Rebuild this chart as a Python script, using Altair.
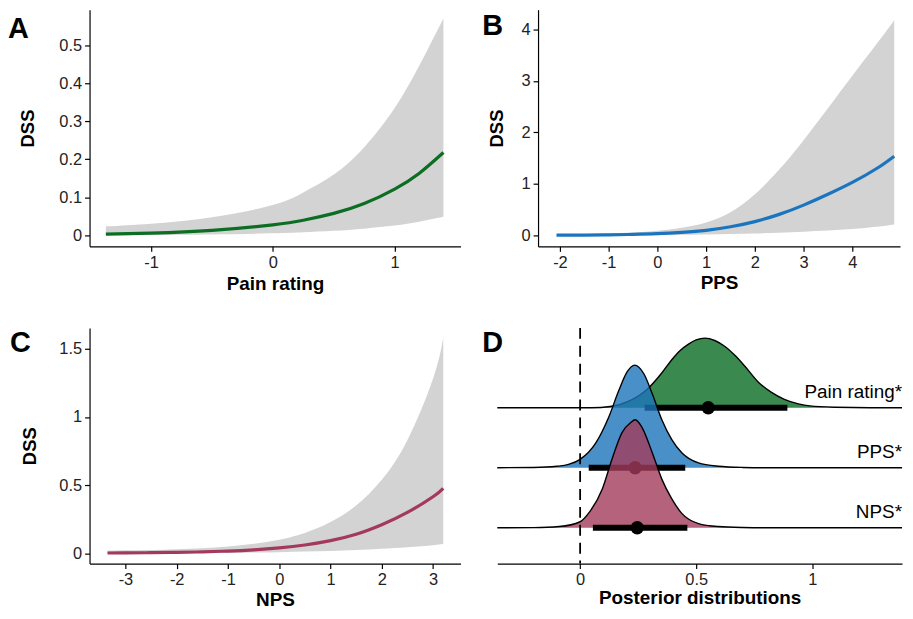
import altair as alt
import pandas as pd

FONT = "Liberation Sans"

# ---------------- Panel A : Pain rating ----------------
a_x = [-1.37, -1.0, -0.5, 0.0, 0.25, 0.5, 0.75, 1.0, 1.2, 1.4]
a_fit = [0.0037, 0.0064, 0.0134, 0.028, 0.040, 0.058, 0.084, 0.122, 0.163, 0.218]
a_lo = [0.0008, 0.0014, 0.0028, 0.0058, 0.0085, 0.0124, 0.018, 0.026, 0.036, 0.049]
a_hi = [0.024, 0.031, 0.048, 0.080, 0.113, 0.160, 0.232, 0.335, 0.445, 0.570]

# ---------------- Panel B : PPS ----------------
b_x = [-2.07, -1.5, -1.0, -0.5, 0.0, 0.5, 1.0, 1.5, 2.0, 2.5, 3.0, 3.5, 4.0, 4.5, 4.86]
b_fit = [0.006, 0.009, 0.014, 0.022, 0.035, 0.06, 0.10, 0.17, 0.27, 0.41, 0.59, 0.80, 1.03, 1.30, 1.54]
b_lo = [0.0, 0.002, 0.004, 0.007, 0.01, 0.015, 0.021, 0.029, 0.04, 0.054, 0.072, 0.095, 0.125, 0.17, 0.215]
b_hi = [0.02, 0.028, 0.04, 0.06, 0.09, 0.15, 0.25, 0.45, 0.80, 1.28, 1.85, 2.47, 3.10, 3.72, 4.18]

# ---------------- Panel C : NPS ----------------
c_x = [-3.35, -3.0, -2.5, -2.0, -1.5, -1.0, -0.5, 0.0, 0.5, 1.0, 1.5, 2.0, 2.5, 3.0, 3.2]
c_fit = [0.0025, 0.0033, 0.005, 0.0075, 0.011, 0.017, 0.026, 0.04, 0.061, 0.093, 0.14, 0.21, 0.30, 0.415, 0.477]
c_lo = [0.001, 0.0012, 0.0016, 0.0022, 0.003, 0.0042, 0.006, 0.009, 0.013, 0.018, 0.025, 0.034, 0.045, 0.06, 0.068]
c_hi = [0.02, 0.022, 0.025, 0.03, 0.038, 0.05, 0.07, 0.10, 0.15, 0.23, 0.35, 0.54, 0.83, 1.28, 1.58]

# ---------------- Panel D : posterior distributions ----------------
ridge_names = ["Pain rating", "PPS", "NPS"]
ridge_offsets = [2, 1, 0]
ridge_colors = ["#096D23", "#1D74BA", "#A23B5B"]

pain_x = [-0.357, 0.05, 0.13, 0.21, 0.295, 0.35, 0.395, 0.43, 0.467, 0.5, 0.538, 0.58,
          0.624, 0.67, 0.71, 0.767, 0.823, 0.88, 0.94, 0.99, 1.1, 1.25, 1.387]
pain_h = [0, 0, 0.02, 0.11, 0.33, 0.57, 0.80, 0.95, 1.06, 1.13, 1.16, 1.12,
          1.02, 0.86, 0.69, 0.43, 0.26, 0.14, 0.065, 0.03, 0.008, 0, 0]
pps_x = [-0.357, -0.2, -0.1, -0.05, 0.0, 0.067, 0.124, 0.167, 0.203, 0.235, 0.274,
         0.31, 0.352, 0.395, 0.438, 0.51, 0.595, 0.7, 0.8, 1.387]
pps_h = [0, 0.005, 0.025, 0.055, 0.14, 0.41, 0.85, 1.29, 1.60, 1.71, 1.57,
         1.24, 0.80, 0.47, 0.25, 0.08, 0.025, 0.005, 0, 0]
nps_x = [-0.357, -0.2, -0.09, 0.0, 0.04, 0.096, 0.138, 0.181, 0.217, 0.238, 0.267,
         0.31, 0.352, 0.395, 0.438, 0.51, 0.595, 0.7, 0.8, 1.387]
nps_h = [0, 0.003, 0.02, 0.10, 0.26, 0.65, 1.15, 1.59, 1.75, 1.80, 1.67,
         1.26, 0.81, 0.48, 0.24, 0.07, 0.02, 0.004, 0, 0]

interval_median = [0.552, 0.237, 0.246]
interval_lo = [0.278, 0.037, 0.055]
interval_hi = [0.893, 0.453, 0.462]
ridge_labels = ["Pain rating*", "PPS*", "NPS*"]

HYPHEN = "replace(format(datum.value, '~g'), '\u2212', '-')"


def letter(text, x, y):
    return alt.Chart(pd.DataFrame({"t": [text]})).mark_text(
        align="left", baseline="top", font=FONT, fontSize=29, fontWeight="bold",
        color="black"
    ).encode(x=alt.value(x), y=alt.value(y), text="t:N")


def curve_panel(x, fit, lo, hi, color, xdom, ydom, xticks, yticks, xtitle,
                width, height, ytitle_x, xtitle_y, lab):
    X = alt.X("x:Q", scale=alt.Scale(domain=xdom, nice=False, zero=False),
              axis=alt.Axis(values=xticks, title=xtitle, labelExpr=HYPHEN,
                            titleBaseline="alphabetic", titleY=xtitle_y))
    Y = alt.Y("y:Q", scale=alt.Scale(domain=ydom, nice=False, zero=False),
              axis=alt.Axis(values=yticks, title="DSS", format="~g",
                            titleBaseline="alphabetic", titleX=ytitle_x))
    band_df = pd.DataFrame({"x": x, "y": lo, "y2": hi})
    line_df = pd.DataFrame({"x": x, "y": fit})
    band = alt.Chart(band_df).mark_area(color="#D3D3D3", interpolate="natural").encode(
        x=X, y=Y, y2="y2:Q")
    line = alt.Chart(line_df).mark_line(color=color, strokeWidth=3.2, interpolate="natural").encode(
        x=X, y=Y)
    return alt.layer(band, line, lab).properties(width=width, height=height)


A = curve_panel(a_x, a_fit, a_lo, a_hi, "#0B6E23", [-1.504, 1.54], [-0.0285, 0.593],
                [-1, 0, 1], [0, 0.1, 0.2, 0.3, 0.4, 0.5], "Pain rating",
                373, 238, -56.7, 43, letter("A", -82, 5))
B = curve_panel(b_x, b_fit, b_lo, b_hi, "#1A75BE", [-2.449, 4.979], [-0.2105, 4.383],
                [-2, -1, 0, 1, 2, 3, 4], [0, 1, 2, 3, 4], "PPS",
                364, 238, -35.3, 42, letter("B", -56, 2))
C = curve_panel(c_x, c_fit, c_lo, c_hi, "#A3395C", [-3.70, 3.536], [-0.075, 1.653],
                [-3, -2, -1, 0, 1, 2, 3], [0, 0.5, 1, 1.5], "NPS",
                373, 237, -54.7, 42, letter("C", -80, 1))

# ---- Panel D ----
XD = alt.X("x:Q", scale=alt.Scale(domain=[-0.357, 1.387], nice=False, zero=False),
           axis=alt.Axis(values=[0, 0.5, 1], title="Posterior distributions", labelExpr=HYPHEN,
                         titleBaseline="alphabetic", titleY=40.5))
YD = alt.Y("y:Q", scale=alt.Scale(domain=[-0.597, 3.33], nice=False, zero=False), axis=None)

dens_x = [pain_x, pps_x, nps_x]
dens_h = [pain_h, pps_h, nps_h]
d_layers = []
for i in range(3):
    off = ridge_offsets[i]
    ddf = pd.DataFrame({"x": dens_x[i], "y": [off + h for h in dens_h[i]],
                        "y2": [off] * len(dens_x[i])})
    d_layers.append(alt.Chart(ddf).mark_area(color=ridge_colors[i], opacity=0.8,
                                             interpolate="monotone").encode(x=XD, y=YD, y2="y2:Q"))
    d_layers.append(alt.Chart(ddf).mark_line(color="black", strokeWidth=1.4,
                                             interpolate="monotone").encode(x=XD, y=YD))
    idf = pd.DataFrame({"x": [interval_lo[i]], "x2": [interval_hi[i]], "y": [off]})
    d_layers.append(alt.Chart(idf).mark_rule(color="black", strokeWidth=6).encode(
        x=XD, x2="x2:Q", y=YD))
    pdf = pd.DataFrame({"x": [interval_median[i]], "y": [off]})
    d_layers.append(alt.Chart(pdf).mark_circle(color="black", opacity=1, size=180).encode(
        x=XD, y=YD))

vdf = pd.DataFrame({"x": [0]})
d_layers.append(alt.Chart(vdf).mark_rule(color="black", strokeWidth=1.8,
                                         strokeDash=[11, 7]).encode(x=XD))
tdf = pd.DataFrame({"x": [1.387] * 3, "y": [o + 0.165 for o in ridge_offsets], "t": ridge_labels})
d_layers.append(alt.Chart(tdf).mark_text(align="right", baseline="alphabetic", font=FONT,
                                         fontSize=19, color="black").encode(
    x=XD, y=YD, text="t:N"))
d_layers.append(letter("D", -15, 1))

D = alt.layer(*d_layers).properties(width=407, height=237)

row1 = alt.hconcat(A, B, spacing=78, bounds="flush")
row2 = alt.hconcat(C, D, spacing=37, bounds="flush")

chart = alt.vconcat(row1, row2, spacing=34).properties(
    padding={"left": 0, "top": 0, "right": 0, "bottom": 0}
).configure_view(stroke=None).configure_axis(
    domainColor="black", domainWidth=1.2, tickColor="black", tickWidth=1.2, tickSize=5,
    labelFont=FONT, labelFontSize=16.5, labelColor="#222222",
    titleFont=FONT, titleFontSize=19, titleFontWeight="bold", titleColor="black",
    grid=False, labelFlush=False, labelOverlap=False
).configure_axisY(labelPadding=3, titleFontSize=18.5).configure_axisX(labelPadding=3.5)

chart.save("out.html", embed_options={"renderer": "svg", "actions": False})
